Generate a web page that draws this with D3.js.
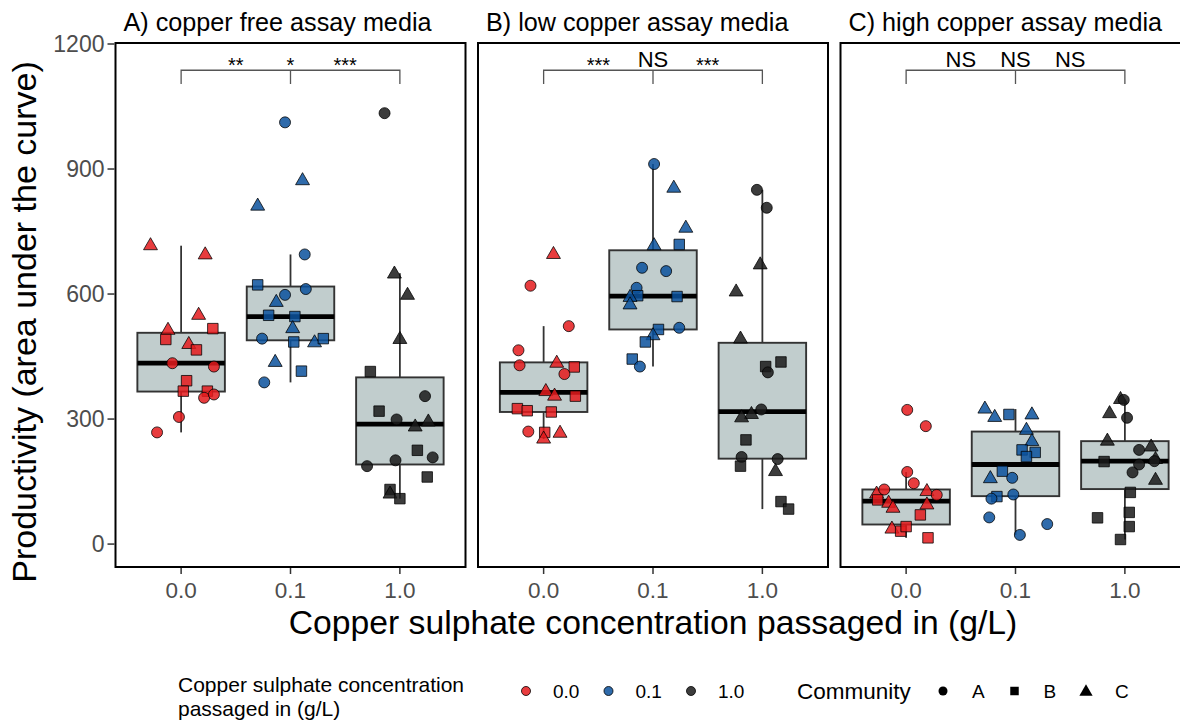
<!DOCTYPE html>
<html><head><meta charset="utf-8">
<script src="https://cdn.jsdelivr.net/npm/d3@7"></script>
<style>body{margin:0;background:#fff}svg{display:block;font-family:"Liberation Sans",Arial,Helvetica,sans-serif}</style>
</head><body><svg id="c" width="1180" height="720"></svg>
<script>
// ---------------- data ----------------
const panelTitles = ["A) copper free assay media", "B) low copper assay media", "C) high copper assay media"];
const concentrations = ["0.0", "0.1", "1.0"];
const communities = ["A", "B", "C"];
const yTicks = [0, 300, 600, 900, 1200];

// box statistics per concentration: [lower whisker, Q1, median, Q3, upper whisker]
const boxStatsA = [[268, 366, 434, 507, 716], [388, 489, 546, 618, 695], [109, 191, 288, 400, 650]];
const boxStatsB = [[252, 317, 364, 436, 523], [426, 515, 595, 705, 912], [84, 205, 318, 483, 850]];
const boxStatsC = [[15, 47, 103, 131, 173], [22, 115, 191, 270, 324], [11, 132, 199, 247, 347]];

// significance labels (0.0 vs 0.1, overall, 0.1 vs 1.0)
const sigA = ["**", "*", "***"];
const sigB = ["***", "NS", "***"];
const sigC = ["NS", "NS", "NS"];

// points: [concentration passaged in, community, productivity, jitter (fraction of category step)]
const pointsA = [
  ["0.0","C",716,-0.28],["0.0","C",694,0.22],["0.0","C",549,0.16],["0.0","C",513,-0.12],
  ["0.0","B",517,0.29],["0.0","B",491,-0.14],["0.0","C",479,0.07],["0.0","B",466,0.14],
  ["0.0","A",434,-0.08],["0.0","A",426,0.30],["0.0","B",392,0.05],["0.0","B",367,0.02],
  ["0.0","B",367,0.24],["0.0","A",351,0.21],["0.0","A",359,0.30],["0.0","A",305,-0.02],
  ["0.0","A",268,-0.22],
  ["0.1","A",1012,-0.05],["0.1","C",872,0.11],["0.1","C",811,-0.30],["0.1","A",695,0.13],
  ["0.1","B",622,-0.30],["0.1","A",612,0.14],["0.1","A",598,-0.05],["0.1","C",580,-0.13],
  ["0.1","B",549,-0.20],["0.1","B",546,0.04],["0.1","C",517,0.02],["0.1","A",493,-0.26],
  ["0.1","B",485,0.03],["0.1","C",483,0.22],["0.1","B",493,0.30],["0.1","C",436,-0.14],
  ["0.1","B",415,0.10],["0.1","A",388,-0.24],
  ["1.0","A",1034,-0.14],["1.0","C",648,-0.05],["1.0","C",597,0.07],["1.0","C",491,0.00],
  ["1.0","B",414,-0.27],["1.0","A",355,0.23],["1.0","B",319,-0.19],["1.0","A",299,-0.03],
  ["1.0","C",281,0.14],["1.0","C",293,0.26],["1.0","B",225,0.16],["1.0","A",208,0.30],
  ["1.0","A",187,-0.30],["1.0","A",201,-0.04],["1.0","B",161,0.25],["1.0","B",131,-0.09],
  ["1.0","C",120,-0.09],["1.0","B",109,0.00]
];
const pointsB = [
  ["0.0","C",695,0.09],["0.0","A",620,-0.12],["0.0","A",523,0.23],["0.0","A",465,-0.23],
  ["0.0","C",434,0.12],["0.0","A",429,-0.22],["0.0","B",425,0.28],["0.0","A",408,0.19],
  ["0.0","C",366,0.02],["0.0","C",355,0.10],["0.0","B",355,0.29],["0.0","B",325,-0.24],
  ["0.0","B",320,-0.15],["0.0","B",317,0.07],["0.0","A",270,-0.14],["0.0","C",266,0.15],
  ["0.0","B",268,0.01],["0.0","C",252,0.00],
  ["0.1","A",912,0.01],["0.1","C",854,0.19],["0.1","C",758,0.30],["0.1","C",716,0.01],
  ["0.1","B",719,0.24],["0.1","A",663,-0.10],["0.1","A",655,0.12],["0.1","A",615,-0.15],
  ["0.1","B",596,-0.14],["0.1","C",592,-0.21],["0.1","B",594,0.22],["0.1","C",574,-0.21],
  ["0.1","B",515,0.05],["0.1","C",500,0.00],["0.1","A",519,0.24],["0.1","B",485,-0.07],
  ["0.1","B",444,-0.19],["0.1","A",426,-0.12],
  ["1.0","A",850,-0.05],["1.0","A",807,0.04],["1.0","C",670,-0.02],["1.0","C",605,-0.24],
  ["1.0","C",492,-0.20],["1.0","B",437,0.17],["1.0","B",426,0.03],["1.0","A",412,0.05],
  ["1.0","A",323,-0.01],["1.0","C",311,-0.10],["1.0","C",303,-0.19],["1.0","B",250,-0.15],
  ["1.0","A",209,-0.19],["1.0","A",204,0.14],["1.0","C",174,0.12],["1.0","B",187,-0.20],
  ["1.0","B",102,0.17],["1.0","B",84,0.24]
];
const pointsC = [
  ["0.0","A",322,0.01],["0.0","A",283,0.18],["0.0","A",173,0.01],["0.0","A",146,0.07],
  ["0.0","C",120,-0.27],["0.0","A",131,-0.20],["0.0","C",126,0.19],["0.0","A",118,0.28],
  ["0.0","B",106,-0.26],["0.0","C",98,-0.16],["0.0","C",86,-0.12],["0.0","C",94,0.19],
  ["0.0","B",70,0.13],["0.0","C",36,-0.13],["0.0","B",31,-0.05],["0.0","B",42,0.00],
  ["0.0","B",15,0.20],
  ["0.1","C",324,-0.28],["0.1","C",304,-0.19],["0.1","B",311,-0.06],["0.1","C",310,0.15],
  ["0.1","C",273,0.10],["0.1","C",246,0.15],["0.1","B",226,0.06],["0.1","B",220,0.18],
  ["0.1","B",210,0.10],["0.1","B",175,-0.12],["0.1","C",157,-0.23],["0.1","A",159,-0.03],
  ["0.1","A",119,-0.02],["0.1","B",114,-0.17],["0.1","A",109,-0.22],["0.1","A",64,-0.24],
  ["0.1","A",48,0.29],["0.1","A",22,0.04],
  ["1.0","C",347,-0.04],["1.0","A",346,-0.01],["1.0","C",313,-0.14],["1.0","A",303,0.02],
  ["1.0","C",247,-0.16],["1.0","C",233,0.24],["1.0","A",226,0.13],["1.0","C",203,0.28],
  ["1.0","B",198,-0.19],["1.0","A",199,0.27],["1.0","A",191,0.13],["1.0","A",172,0.07],
  ["1.0","C",153,0.28],["1.0","B",124,0.05],["1.0","B",76,0.04],["1.0","B",63,-0.25],
  ["1.0","B",42,0.04],["1.0","B",11,-0.04]
];
const bracketTop = 1137, bracketBottom = 1104;

// ---------------- drawing ----------------
const panels = [
  {title: panelTitles[0], box: boxStatsA, pts: pointsA, sig: sigA},
  {title: panelTitles[1], box: boxStatsB, pts: pointsB, sig: sigB},
  {title: panelTitles[2], box: boxStatsC, pts: pointsC, sig: sigC}
];
const svg = d3.select("#c");
const pTop = 43, pBottom = 567, panelW = 350, panelGap = 12.5, left0 = 115.5;
const y = d3.scaleLinear().domain([-55, 1202.4]).range([pBottom, pTop]);
const fillColor = d3.scaleOrdinal().domain(concentrations).range(["#E41A1C", "#0A519C", "#1A1A1A"]);
const shape = d3.scaleOrdinal().domain(communities).range([d3.symbolCircle, d3.symbolSquare, d3.symbolTriangle]);
const symSize = d3.scaleOrdinal().domain(communities).range([95, 110, 84]);

panels.forEach((p, i) => {
  const L = left0 + i * (panelW + panelGap);
  const x = d3.scalePoint().domain(concentrations).range([L, L + panelW]).padding(0.6);
  const step = x.step();
  const g = svg.append("g");

  g.append("text").attr("x", L + 8).attr("y", 31).attr("font-size", 25.2).attr("fill", "#000").text(p.title);

  const bw = 0.4 * step;
  concentrations.forEach((c, k) => {
    const [lo, q1, md, q3, hi] = p.box[k];
    const cx = x(c);
    g.append("line").attr("x1", cx).attr("x2", cx).attr("y1", y(hi)).attr("y2", y(q3))
      .attr("stroke", "#333").attr("stroke-width", 1.8);
    g.append("line").attr("x1", cx).attr("x2", cx).attr("y1", y(q1)).attr("y2", y(lo))
      .attr("stroke", "#333").attr("stroke-width", 1.8);
    g.append("rect").attr("x", cx - bw).attr("width", 2 * bw).attr("y", y(q3)).attr("height", y(q1) - y(q3))
      .attr("fill", "#C1CDCD").attr("stroke", "#333").attr("stroke-width", 1.9);
    g.append("line").attr("x1", cx - bw).attr("x2", cx + bw).attr("y1", y(md)).attr("y2", y(md))
      .attr("stroke", "#000").attr("stroke-width", 4.8);
  });

  g.selectAll("path.pt").data(p.pts).join("path").attr("class", "pt")
    .attr("d", d => d3.symbol(shape(d[1]), symSize(d[1]))())
    .attr("transform", d => `translate(${x(d[0]) + d[3] * step},${y(d[2])})`)
    .attr("fill", d => fillColor(d[0])).attr("fill-opacity", 0.85)
    .attr("stroke", "#000").attr("stroke-width", 0.9).attr("stroke-opacity", 0.85);

  const x0 = x(concentrations[0]), x1 = x(concentrations[1]), x2 = x(concentrations[2]);
  g.append("path")
    .attr("d", `M${x0},${y(bracketBottom)}V${y(bracketTop)}H${x2}V${y(bracketBottom)}M${x1},${y(bracketTop)}V${y(bracketBottom)}`)
    .attr("fill", "none").attr("stroke", "#555").attr("stroke-width", 1.3);
  const labX = [(x0 + x1) / 2, x1, (x1 + x2) / 2];
  p.sig.forEach((s, k) => {
    const isNS = s === "NS";
    g.append("text").attr("x", labX[k]).attr("y", isNS ? 66.5 : 72)
      .attr("text-anchor", "middle").attr("font-size", isNS ? 22 : 20).attr("fill", "#000").text(s);
  });

  g.append("rect").attr("x", L).attr("y", pTop).attr("width", panelW).attr("height", pBottom - pTop)
    .attr("fill", "none").attr("stroke", "#000").attr("stroke-width", 2);

  concentrations.forEach(c => {
    g.append("line").attr("x1", x(c)).attr("x2", x(c)).attr("y1", pBottom + 1).attr("y2", pBottom + 7)
      .attr("stroke", "#333").attr("stroke-width", 1.5);
    g.append("text").attr("x", x(c)).attr("y", 598).attr("text-anchor", "middle")
      .attr("font-size", 22.5).attr("fill", "#4D4D4D").text(c);
  });

  if (i === 0) {
    yTicks.forEach(t => {
      g.append("line").attr("x1", L - 8).attr("x2", L - 1).attr("y1", y(t)).attr("y2", y(t))
        .attr("stroke", "#333").attr("stroke-width", 1.5);
      g.append("text").attr("x", L - 11).attr("y", y(t)).attr("dy", "0.36em").attr("text-anchor", "end")
        .attr("font-size", 23).attr("fill", "#4D4D4D").text(t);
    });
  }
});

svg.append("text").attr("x", left0 + 1.5 * panelW + panelGap).attr("y", 634).attr("text-anchor", "middle")
  .attr("font-size", 33.7).attr("fill", "#000").text("Copper sulphate concentration passaged in (g/L)");
svg.append("text").attr("transform", "translate(36,322) rotate(-90)").attr("text-anchor", "middle")
  .attr("font-size", 34).attr("fill", "#000").text("Productivity (area under the curve)");

const lg = svg.append("g");
lg.append("text").attr("x", 178).attr("y", 692).attr("font-size", 21).text("Copper sulphate concentration");
lg.append("text").attr("x", 178).attr("y", 715.5).attr("font-size", 21).text("passaged in (g/L)");
concentrations.forEach((c, k) => {
  const kx = 526 + k * 82.5;
  lg.append("path").attr("d", d3.symbol(d3.symbolCircle, 64)()).attr("transform", `translate(${kx},691)`)
    .attr("fill", fillColor(c)).attr("fill-opacity", 0.85).attr("stroke", "#000").attr("stroke-width", 0.8);
  lg.append("text").attr("x", kx + 27).attr("y", 698).attr("font-size", 19).text(c);
});
lg.append("text").attr("x", 797).attr("y", 699).attr("font-size", 22.5).text("Community");
communities.forEach((c, k) => {
  const kx = 943 + k * 71.5;
  lg.append("path").attr("d", d3.symbol(shape(c), [64, 72, 76][k])()).attr("transform", `translate(${kx},${k === 2 ? 692 : 691})`)
    .attr("fill", "#000");
  lg.append("text").attr("x", kx + 29).attr("y", 698).attr("font-size", 19).text(c);
});
</script></body></html>
